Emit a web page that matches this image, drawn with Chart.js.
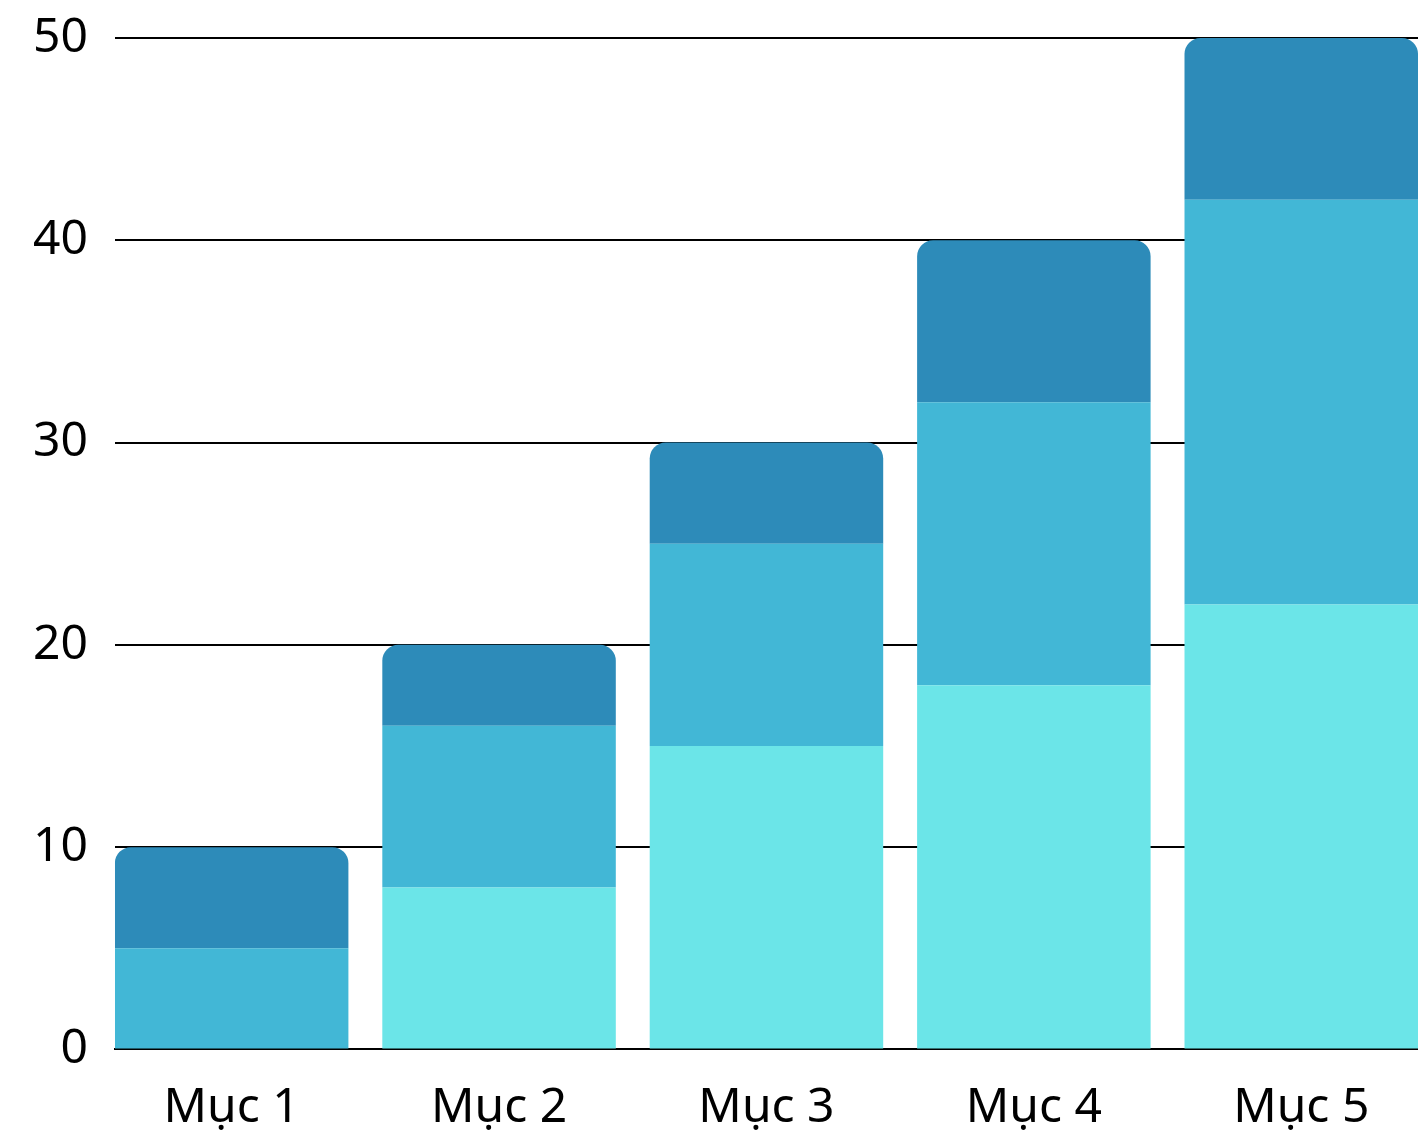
<!DOCTYPE html>
<html>
<head>
<meta charset="utf-8">
<script src="https://cdn.jsdelivr.net/npm/chart.js@4.4.0/dist/chart.umd.min.js"></script>
<style>
html,body{margin:0;padding:0;background:#fff;overflow:hidden;}
canvas{display:block;}
</style>
</head>
<body>
<canvas id="c" width="1418" height="1135"></canvas>
<script>
const categories = ['Mục 1', 'Mục 2', 'Mục 3', 'Mục 4', 'Mục 5'];
const seriesBottom = [0, 8, 15, 18, 22];
const seriesMiddle = [5, 8, 10, 14, 20];
const seriesTop = [5, 4, 5, 8, 8];
const yTicks = [0, 10, 20, 30, 40, 50];

const colors = ['#6be5e8', '#42b7d6', '#2d8bb9'];
const half = 0.4366;
const toPts = arr => arr.map((v, i) => ({x: i, y: v}));
const FONT = "'Noto Sans', sans-serif";

new Chart(document.getElementById('c'), {
  type: 'bar',
  data: {
    datasets: [
      {data: toPts(seriesBottom), backgroundColor: colors[0], borderWidth: 0},
      {data: toPts(seriesMiddle), backgroundColor: colors[1], borderWidth: 0},
      {data: toPts(seriesTop), backgroundColor: colors[2], borderWidth: 0,
       borderRadius: {topLeft: 16, topRight: 16, bottomLeft: 0, bottomRight: 0}, borderSkipped: 'start'}
    ]
  },
  options: {
    responsive: false,
    devicePixelRatio: 1,
    animation: false,
    events: [],
    layout: {padding: {top: 0, left: 6, right: 0, bottom: -32}},
    plugins: {legend: {display: false}, tooltip: {enabled: false}},
    datasets: {bar: {categoryPercentage: 1, barPercentage: 2 * half}},
    scales: {
      x: {
        type: 'linear',
        stacked: true,
        offset: false,
        min: -half,
        max: categories.length - 1 + half,
        afterBuildTicks: s => { s.ticks = categories.map((_, i) => ({value: i})); },
        grid: {display: false, drawTicks: false, offset: false},
        border: {display: true, color: '#000', width: 2},
        ticks: {
          color: '#000',
          font: {family: FONT, size: 48},
          padding: 30,
          maxRotation: 0,
          autoSkip: false,
          callback: v => categories[v]
        }
      },
      y: {
        stacked: true,
        min: yTicks[0],
        max: yTicks[yTicks.length - 1],
        afterBuildTicks: s => { s.ticks = yTicks.map(v => ({value: v})); },
        grid: {color: '#000', lineWidth: 2, drawTicks: false},
        border: {display: false},
        ticks: {
          color: '#000',
          font: {family: FONT, size: 48, lineHeight: 0.46},
          padding: 27
        }
      }
    }
  }
});
</script>
</body>
</html>
